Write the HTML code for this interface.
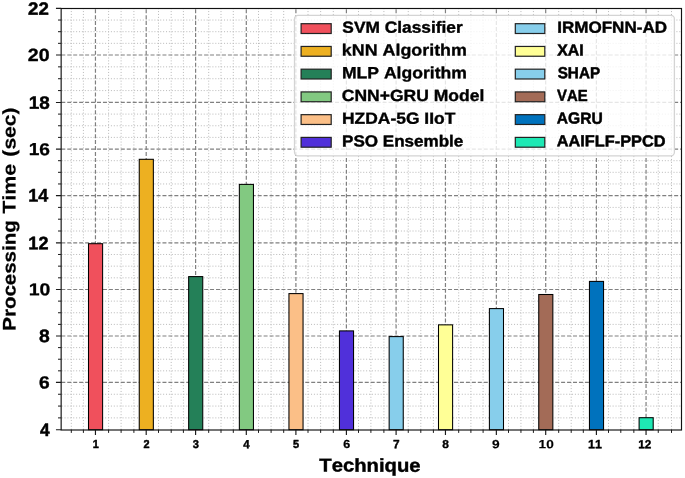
<!DOCTYPE html><html><head><meta charset="utf-8"><style>html,body{margin:0;padding:0;background:#fff;overflow:hidden}svg{display:block;will-change:transform}text{font-family:"Liberation Sans",sans-serif;font-weight:bold;font-kerning:none;fill:#000;text-rendering:geometricPrecision}</style></head><body>
<svg width="685" height="478" viewBox="0 0 685 478">
<rect width="685" height="478" fill="#fff"/>
<path d="M61.15 417.88H681.5M61.15 406.07H681.5M61.15 394.25H681.5M61.15 370.83H681.5M61.15 359.22H681.5M61.15 347.61H681.5M61.15 324.38H681.5M61.15 312.75H681.5M61.15 301.12H681.5M61.15 277.82H681.5M61.15 266.15H681.5M61.15 254.48H681.5M61.15 231H681.5M61.15 219.2H681.5M61.15 207.4H681.5M61.15 183.96H681.5M61.15 172.32H681.5M61.15 160.69H681.5M61.15 137.4H681.5M61.15 125.75H681.5M61.15 114.1H681.5M61.15 90.58H681.5M61.15 78.72H681.5M61.15 66.85H681.5M61.15 43.33H681.5M61.15 31.69H681.5M61.15 20.04H681.5" stroke="#bcbcbc" stroke-width="1.0" stroke-dasharray="1.05 1.85" stroke-dashoffset="-0.45" fill="none"/>
<path d="M71.3 429.7V8.5M83.4 429.7V8.5M108.6 429.7V8.5M121.1 429.7V8.5M133.9 429.7V8.5M158.5 429.7V8.5M171.2 429.7V8.5M183.4 429.7V8.5M208.7 429.7V8.5M221 429.7V8.5M233.3 429.7V8.5M258.5 429.7V8.5M271.1 429.7V8.5M283.7 429.7V8.5M308 429.7V8.5M320.65 429.7V8.5M333.3 429.7V8.5M358.5 429.7V8.5M370.9 429.7V8.5M383.9 429.7V8.5M408.25 429.7V8.5M420.8 429.7V8.5M433.4 429.7V8.5M458.7 429.7V8.5M470.9 429.7V8.5M483.1 429.7V8.5M508.5 429.7V8.5M520.95 429.7V8.5M533.4 429.7V8.5M558.7 429.7V8.5M571.2 429.7V8.5M583.3 429.7V8.5M608.5 429.7V8.5M620.8 429.7V8.5M633.85 429.7V8.5M658.25 429.7V8.5M671.5 429.7V8.5" stroke="#bcbcbc" stroke-width="1.0" stroke-dasharray="1.05 1.85" fill="none"/>
<path d="M61.15 382.44H681.5M61.15 336H681.5M61.15 289.5H681.5M61.15 242.8H681.5M61.15 195.6H681.5M61.15 149.05H681.5M61.15 102.45H681.5M61.15 54.98H681.5" stroke="#808080" stroke-width="1.2" stroke-dasharray="4.0 1.95" stroke-dashoffset="-0.15" fill="none"/>
<path d="M95.45 429.7V8.5M146.2 429.7V8.5M195.6 429.7V8.5M246.3 429.7V8.5M295.9 429.7V8.5M346.4 429.7V8.5M396.1 429.7V8.5M445.45 429.7V8.5M496.35 429.7V8.5M545.7 429.7V8.5M596.4 429.7V8.5M646.05 429.7V8.5" stroke="#808080" stroke-width="1.2" stroke-dasharray="4.0 1.95" fill="none"/>
<rect x="88.5" y="243.7" width="14.1" height="186" fill="#F0505C" stroke="#000" stroke-width="1.05"/>
<rect x="139.25" y="159.3" width="14.1" height="270.4" fill="#EDB021" stroke="#000" stroke-width="1.05"/>
<rect x="188.65" y="276.6" width="14.1" height="153.1" fill="#248058" stroke="#000" stroke-width="1.05"/>
<rect x="239.35" y="184.4" width="14.1" height="245.3" fill="#82C981" stroke="#000" stroke-width="1.05"/>
<rect x="288.95" y="293.6" width="14.1" height="136.1" fill="#FBBF87" stroke="#000" stroke-width="1.05"/>
<rect x="339.45" y="330.9" width="14.1" height="98.8" fill="#5030DA" stroke="#000" stroke-width="1.05"/>
<rect x="389.15" y="336.6" width="14.1" height="93.1" fill="#87CEEB" stroke="#000" stroke-width="1.05"/>
<rect x="438.5" y="324.85" width="14.1" height="104.85" fill="#FFFF96" stroke="#000" stroke-width="1.05"/>
<rect x="489.4" y="308.6" width="14.1" height="121.1" fill="#87CEEB" stroke="#000" stroke-width="1.05"/>
<rect x="538.75" y="294.5" width="14.1" height="135.2" fill="#A36B57" stroke="#000" stroke-width="1.05"/>
<rect x="589.45" y="281.4" width="14.1" height="148.3" fill="#0072BD" stroke="#000" stroke-width="1.05"/>
<rect x="639.1" y="417.7" width="14.1" height="12" fill="#1EE8B4" stroke="#000" stroke-width="1.05"/>
<rect x="61.15" y="8.5" width="620.35" height="421.5" fill="none" stroke="#111" stroke-width="1.15"/>
<path d="M55.95 429.7H61.15M55.95 382.44H61.15M55.95 336H61.15M55.95 289.5H61.15M55.95 242.8H61.15M55.95 195.6H61.15M55.95 149.05H61.15M55.95 102.45H61.15M55.95 54.98H61.15M55.95 8.4H61.15M95.45 429.7V435M146.2 429.7V435M195.6 429.7V435M246.3 429.7V435M295.9 429.7V435M346.4 429.7V435M396.1 429.7V435M445.45 429.7V435M496.35 429.7V435M545.7 429.7V435M596.4 429.7V435M646.05 429.7V435" stroke="#1a1a1a" stroke-width="1.15" fill="none"/>
<path d="M58 417.88H61.15M58 406.07H61.15M58 394.25H61.15M58 370.83H61.15M58 359.22H61.15M58 347.61H61.15M58 324.38H61.15M58 312.75H61.15M58 301.12H61.15M58 277.82H61.15M58 266.15H61.15M58 254.48H61.15M58 231H61.15M58 219.2H61.15M58 207.4H61.15M58 183.96H61.15M58 172.32H61.15M58 160.69H61.15M58 137.4H61.15M58 125.75H61.15M58 114.1H61.15M58 90.58H61.15M58 78.72H61.15M58 66.85H61.15M58 43.33H61.15M58 31.69H61.15M58 20.04H61.15M71.3 429.7V432.9M83.4 429.7V432.9M108.6 429.7V432.9M121.1 429.7V432.9M133.9 429.7V432.9M158.5 429.7V432.9M171.2 429.7V432.9M183.4 429.7V432.9M208.7 429.7V432.9M221 429.7V432.9M233.3 429.7V432.9M258.5 429.7V432.9M271.1 429.7V432.9M283.7 429.7V432.9M308 429.7V432.9M320.65 429.7V432.9M333.3 429.7V432.9M358.5 429.7V432.9M370.9 429.7V432.9M383.9 429.7V432.9M408.25 429.7V432.9M420.8 429.7V432.9M433.4 429.7V432.9M458.7 429.7V432.9M470.9 429.7V432.9M483.1 429.7V432.9M508.5 429.7V432.9M520.95 429.7V432.9M533.4 429.7V432.9M558.7 429.7V432.9M571.2 429.7V432.9M583.3 429.7V432.9M608.5 429.7V432.9M620.8 429.7V432.9M633.85 429.7V432.9M658.25 429.7V432.9M671.5 429.7V432.9" stroke="#1a1a1a" stroke-width="1.0" fill="none"/>
<text transform="translate(28.05 14.78) skewY(0.05) scale(1.0413 1)" font-size="17.92" stroke="#000" stroke-width="0.498" stroke-linejoin="round">22</text>
<text transform="translate(27.79 61.11) skewY(0.05) scale(1.1042 1)" font-size="17.75" stroke="#000" stroke-width="0.332" stroke-linejoin="round">20</text>
<text transform="translate(28.77 108.76) skewY(0.05) scale(1.0657 1)" font-size="17.75" stroke="#000" stroke-width="0.431" stroke-linejoin="round">18</text>
<text transform="translate(28.71 155.12) skewY(0.05) scale(1.1031 1)" font-size="17.33" stroke="#000" stroke-width="0.327" stroke-linejoin="round">16</text>
<text transform="translate(28.37 201.6) skewY(0.05) scale(0.9939 1)" font-size="18.02" stroke="#000" stroke-width="0.500" stroke-linejoin="round">14</text>
<text transform="translate(28.36 249.2) skewY(0.05) scale(0.9993 1)" font-size="18.05" stroke="#000" stroke-width="0.500" stroke-linejoin="round">12</text>
<text transform="translate(28.76 295.35) skewY(0.05) scale(1.1270 1)" font-size="17.28" stroke="#000" stroke-width="0.267" stroke-linejoin="round">10</text>
<text transform="translate(39 342.07) skewY(0.05) scale(1.0772 1)" font-size="17.93" stroke="#000" stroke-width="0.405" stroke-linejoin="round">8</text>
<text transform="translate(38.9 388.49) skewY(0.05) scale(1.0831 1)" font-size="17.68" stroke="#000" stroke-width="0.385" stroke-linejoin="round">6</text>
<text transform="translate(40.04 435.9) skewY(0.05) scale(0.9633 1)" font-size="18.02" stroke="#000" stroke-width="0.500" stroke-linejoin="round">4</text>
<text transform="translate(92.74 448.1) skewY(0.05) scale(0.9244 1)" font-size="11.77" stroke="#000" stroke-width="0.500" stroke-linejoin="round">1</text>
<text transform="translate(143.4 448.1) skewY(0.05) scale(0.9397 1)" font-size="11.61" stroke="#000" stroke-width="0.492" stroke-linejoin="round">2</text>
<text transform="translate(192.76 448) skewY(0.05) scale(0.9676 1)" font-size="11.5" stroke="#000" stroke-width="0.441" stroke-linejoin="round">3</text>
<text transform="translate(243.28 448.13) skewY(0.05) scale(0.9721 1)" font-size="11.85" stroke="#000" stroke-width="0.447" stroke-linejoin="round">4</text>
<text transform="translate(293.11 448) skewY(0.05) scale(0.9475 1)" font-size="11.64" stroke="#000" stroke-width="0.480" stroke-linejoin="round">5</text>
<text transform="translate(343.22 448.09) skewY(0.05) scale(1.0645 1)" font-size="11.74" stroke="#000" stroke-width="0.287" stroke-linejoin="round">6</text>
<text transform="translate(392.99 448.15) skewY(0.05) scale(0.9958 1)" font-size="11.91" stroke="#000" stroke-width="0.409" stroke-linejoin="round">7</text>
<text transform="translate(442.37 448.06) skewY(0.05) scale(1.0246 1)" font-size="11.65" stroke="#000" stroke-width="0.352" stroke-linejoin="round">8</text>
<text transform="translate(492 448.16) skewY(0.05) scale(1.1505 1)" font-size="11.94" stroke="#000" stroke-width="0.144" stroke-linejoin="round">9</text>
<text transform="translate(538.61 448.15) skewY(0.05) scale(1.1414 1)" font-size="11.92" stroke="#000" stroke-width="0.160" stroke-linejoin="round">10</text>
<text transform="translate(588.08 448.18) skewY(0.05) scale(1.0403 1)" font-size="12.01" stroke="#000" stroke-width="0.335" stroke-linejoin="round">11</text>
<text transform="translate(638.25 448.15) skewY(0.05) scale(1.0036 1)" font-size="11.76" stroke="#000" stroke-width="0.390" stroke-linejoin="round">12</text>
<text transform="translate(319.28 471.6) skewY(0.05) scale(1.0828 1)" font-size="18.73" stroke="#000" stroke-width="0.408" stroke-linejoin="round">Technique</text>
<g transform="rotate(-90)"><text transform="translate(-330.73 15.46) skewY(0.05) scale(1.1265 1)" font-size="18.19" stroke="#000" stroke-width="0.282" stroke-linejoin="round">Processing</text><text transform="translate(-213.75 15.51) skewY(0.05) scale(1.1676 1)" font-size="18.35" stroke="#000" stroke-width="0.176" stroke-linejoin="round">Time</text><text transform="translate(-156.65 15.49) skewY(0.05) scale(1.1541 1)" font-size="18.29" stroke="#000" stroke-width="0.211" stroke-linejoin="round">(sec)</text></g>
<rect x="294.5" y="15.4" width="379.9" height="140.4" rx="3.5" fill="#fff" fill-opacity="0.8" stroke="#d4d4d4" stroke-width="1.3"/>
<rect x="301.1" y="23.7" width="30.1" height="9.8" fill="#F0505C" stroke="#222" stroke-width="1.2"/>
<text transform="translate(342.37 32.71) skewY(0.05) scale(1.0725 1)" font-size="16.16" stroke="#000" stroke-width="0.376" stroke-linejoin="round">SVM Classifier</text>
<rect x="301.1" y="46.44" width="30.1" height="9.8" fill="#EDB021" stroke="#222" stroke-width="1.2"/>
<text transform="translate(341.77 55.48) skewY(0.05) scale(1.1003 1)" font-size="16.25" stroke="#000" stroke-width="0.313" stroke-linejoin="round">kNN Algorithm</text>
<rect x="301.1" y="69.18" width="30.1" height="9.8" fill="#248058" stroke="#222" stroke-width="1.2"/>
<text transform="translate(341.98 78.21) skewY(0.05) scale(1.0846 1)" font-size="16.2" stroke="#000" stroke-width="0.349" stroke-linejoin="round">MLP Algorithm</text>
<rect x="301.1" y="91.92" width="30.1" height="9.8" fill="#82C981" stroke="#222" stroke-width="1.2"/>
<text transform="translate(341.81 100.94) skewY(0.05) scale(1.0818 1)" font-size="16.19" stroke="#000" stroke-width="0.355" stroke-linejoin="round">CNN+GRU Model</text>
<rect x="301.1" y="114.66" width="30.1" height="9.8" fill="#FBBF87" stroke="#222" stroke-width="1.2"/>
<text transform="translate(341.99 123.68) skewY(0.05) scale(1.0785 1)" font-size="16.18" stroke="#000" stroke-width="0.363" stroke-linejoin="round">HZDA-5G IIoT</text>
<rect x="301.1" y="137.4" width="30.1" height="9.8" fill="#5030DA" stroke="#222" stroke-width="1.2"/>
<text transform="translate(342.04 146.4) skewY(0.05) scale(1.0585 1)" font-size="16.11" stroke="#000" stroke-width="0.408" stroke-linejoin="round">PSO Ensemble</text>
<rect x="515.3" y="23.7" width="29.5" height="9.8" fill="#87CEEB" stroke="#222" stroke-width="1.2"/>
<text transform="translate(557.24 32.69) skewY(0.05) scale(1.0574 1)" font-size="16.11" stroke="#000" stroke-width="0.410" stroke-linejoin="round">IRMOFNN-AD</text>
<rect x="515.3" y="46.44" width="29.5" height="9.8" fill="#FFFF96" stroke="#222" stroke-width="1.2"/>
<text transform="translate(557.2 55.39) skewY(0.05) scale(0.9950 1)" font-size="15.99" stroke="#000" stroke-width="0.500" stroke-linejoin="round">XAI</text>
<rect x="515.3" y="69.18" width="29.5" height="9.8" fill="#87CEEB" stroke="#222" stroke-width="1.2"/>
<text transform="translate(557.69 78.13) skewY(0.05) scale(0.9542 1)" font-size="15.99" stroke="#000" stroke-width="0.500" stroke-linejoin="round">SHAP</text>
<rect x="515.3" y="91.92" width="29.5" height="9.8" fill="#A36B57" stroke="#222" stroke-width="1.2"/>
<text transform="translate(557.02 100.87) skewY(0.05) scale(0.9311 1)" font-size="15.99" stroke="#000" stroke-width="0.500" stroke-linejoin="round">VAE</text>
<rect x="515.3" y="114.66" width="29.5" height="9.8" fill="#0072BD" stroke="#222" stroke-width="1.2"/>
<text transform="translate(556.73 123.61) skewY(0.05) scale(0.9765 1)" font-size="15.99" stroke="#000" stroke-width="0.500" stroke-linejoin="round">AGRU</text>
<rect x="515.3" y="137.4" width="29.5" height="9.8" fill="#1EE8B4" stroke="#222" stroke-width="1.2"/>
<text transform="translate(556.71 146.35) skewY(0.05) scale(1.0204 1)" font-size="16" stroke="#000" stroke-width="0.492" stroke-linejoin="round">AAIFLF-PPCD</text>
</svg></body></html>
